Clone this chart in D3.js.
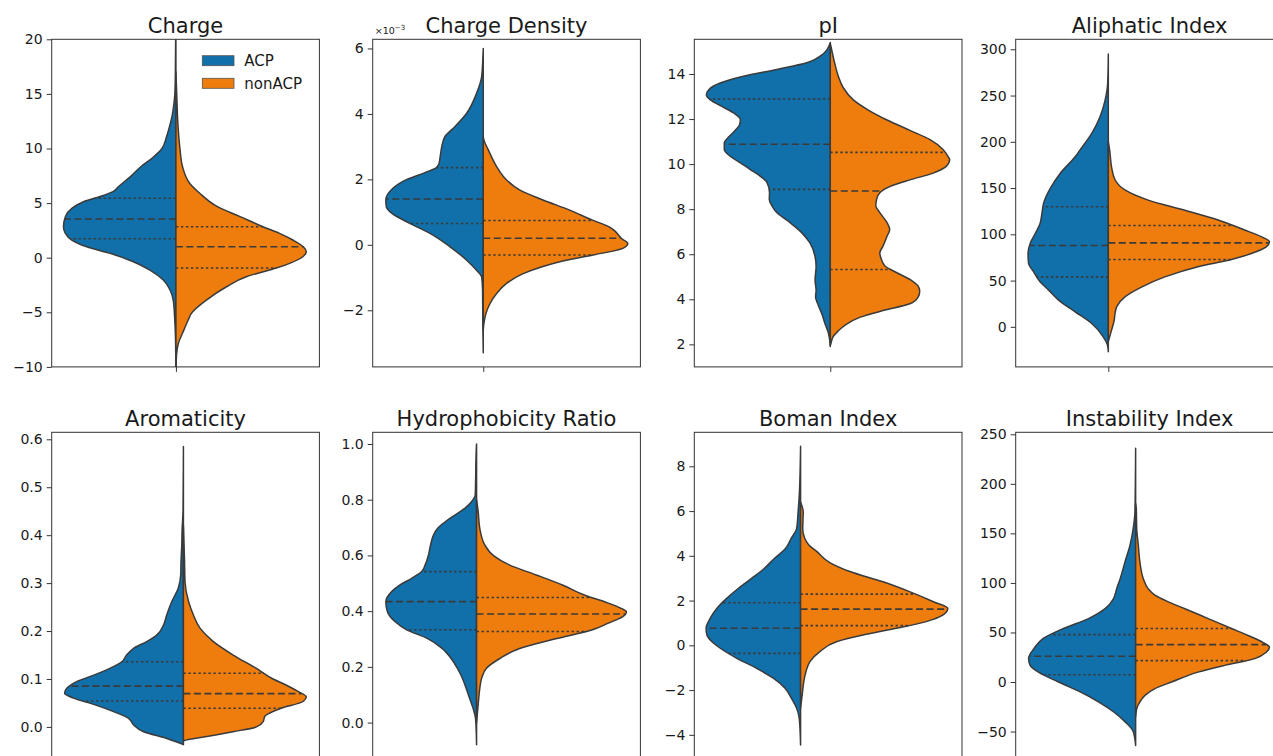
<!DOCTYPE html>
<html><head><meta charset="utf-8">
<script src="https://cdn.jsdelivr.net/npm/d3@7"></script>
<style>
body{margin:0;background:#fff}
svg{display:block}
text{font-family:"DejaVu Sans",sans-serif;fill:#1a1a1a}
</style>
</head><body>
<svg id="chart" width="1273" height="756"></svg>
<script>
// ---------------- DATA ----------------
const panelTitles = ["Charge","Charge Density","pI","Aliphatic Index","Aromaticity","Hydrophobicity Ratio","Boman Index","Instability Index"];
const groups = ["ACP","nonACP"];
// violin position on the (single, unlabeled) x category axis, domain [-0.5, 0.5]
const violinPos = [-0.036,-0.087,0.008,-0.154,-0.008,-0.112,-0.103,-0.052];
// y-axis domains (Charge Density in units of 1e-3)
const yDomains = [[-10,20],[-3.73,6.28],[1.0,15.54],[-43.3,310.8],[-0.0688,0.6146],[-0.134,1.042],[-5.12,9.52],[-78.6,252]];
const yTicks = [
  [-10,-5,0,5,10,15,20],
  [-2,0,2,4,6],
  [2,4,6,8,10,12,14],
  [0,50,100,150,200,250,300],
  [0.0,0.1,0.2,0.3,0.4,0.5,0.6],
  [0.0,0.2,0.4,0.6,0.8,1.0],
  [-4,-2,0,2,4,6,8],
  [-50,0,50,100,150,200,250]
];
const yTickFormats = ["d","d","d","d",".1f",".1f","d","d"];

// density profiles: [value, half-width in % of x-axis span]
const acpCharge = [[22,0],[20,0.1],[17,0.2],[15,0.4],[14,0.8],[13,1.4],[12,2.4],[11,3.6],[10,5.2],[9.2,8.5],[8.4,12.8],[7.4,17.1],[6.5,21.5],[6.05,23.5],[5.6,28.3],[5.13,34.5],[4.52,38.9],[3.76,41.3],[2.84,42],[2.23,41.3],[1.62,38.9],[1.0,33.3],[0.4,24.6],[-0.37,15.9],[-1.13,9.7],[-2.05,4.7],[-2.96,2.2],[-3.88,1.0],[-5.4,0.5],[-7,0.2],[-9,0.05],[-10.5,0]];
const nonCharge = [[17,0],[15,0.3],[12,0.8],[10,1.5],[8.3,2.5],[6.8,5.2],[5.9,8.9],[4.67,15.5],[3.76,24],[2.84,32.5],[2.23,38.7],[1.62,43.7],[1.0,47.6],[0.55,48.7],[0.09,47.4],[-0.52,42.5],[-0.95,37.5],[-1.13,35],[-1.74,26.3],[-2.66,18.9],[-3.88,11.4],[-5.1,5.8],[-5.7,4.6],[-6.9,2.5],[-7.85,0.9],[-9,0.2],[-11,0]];

const acpChargeDensity = [[6.0,0],[5.81,0.1],[5.14,0.6],[4.63,2.5],[4.02,6.2],[3.61,10.6],[3.31,14.3],[3.0,15.5],[2.69,16.1],[2.49,16.5],[2.36,17.5],[2.2,22],[2.0,28.5],[1.67,34.5],[1.37,36.4],[1.16,36.2],[0.96,34.1],[0.65,27.3],[0.35,19.9],[-0.06,12.4],[-0.47,6.2],[-0.78,2.5],[-0.98,0.6],[-1.4,0.25],[-2.5,0.15],[-3.3,0]];
const nonChargeDensity = [[3.3,0],[3.2,0.25],[2.9,1.9],[2.39,5],[1.98,8.7],[1.67,13.7],[1.37,22.3],[1.06,32.3],[0.755,40.8],[0.55,47],[0.45,48.8],[0.3,50.5],[0.2,51.5],[0.04,54],[-0.11,52.1],[-0.31,41],[-0.47,31],[-0.67,22],[-0.88,14.9],[-1.18,8.7],[-1.49,5],[-1.8,2.5],[-2.1,1],[-2.4,0.25],[-2.6,0]];

const acpPI = [[15.4,0],[14.9,2.6],[14.5,8.8],[14.2,20],[13.9,32.4],[13.6,41.1],[13.3,45.4],[13.07,46.3],[12.85,44.8],[12.56,40.5],[12.27,36.1],[11.97,33.6],[11.75,33.9],[11.5,35.5],[11.2,38],[10.95,39.6],[10.65,39.6],[10.35,37.4],[10.06,33.6],[9.76,29.9],[9.47,26.2],[9.2,23.7],[8.73,22.7],[8.44,22.8],[8.15,21.8],[7.85,20],[7.4,15],[6.96,10.7],[6.5,7.6],[5.9,5.7],[5.45,5.3],[4.86,5.7],[4.4,5.3],[4.1,5.5],[3.8,4.7],[3.37,3.2],[2.93,2],[2.5,0.7],[2.05,0.1],[1.9,0]];
const nonPI = [[15.35,0],[15.3,0.1],[14.6,1.4],[13.9,3],[13.4,4.8],[12.85,8.6],[12.4,14.2],[11.97,21],[11.5,29.7],[11.1,37.1],[10.65,42.1],[10.35,43.9],[10.2,44.6],[9.9,43.3],[9.6,38.4],[9.3,29.7],[9.0,22.2],[8.73,18.5],[8.44,17.3],[8.15,17],[7.85,18.5],[7.4,21.2],[7.1,22.2],[6.8,21.2],[6.36,19.7],[6.06,18.5],[5.77,19.1],[5.47,20.5],[5.2,24.5],[4.86,30],[4.57,32.9],[4.35,33.4],[4.1,32.8],[3.8,29.7],[3.5,19.7],[3.2,11],[2.9,6.1],[2.6,3],[2.35,1.1],[2.05,0.25],[1.95,0]];

const acpAliphatic = [[295,0],[263,0.25],[245,1.2],[227,3.1],[209,6.2],[191,10.6],[183.8,12.4],[165.8,18],[149.6,21.7],[133.4,24.2],[122.6,24.8],[111.8,25.5],[100.9,27.3],[90.1,29.2],[79.3,30],[68.5,29.8],[59.5,27.9],[48.7,25.5],[39.7,22.3],[28.8,18.6],[16.2,12.4],[3.6,6.2],[-10.8,1.9],[-20,0.3],[-27,0]];
const nonAliphatic = [[200,0],[191,0.5],[173,1.2],[159,2.5],[148,6.2],[137,14.9],[126,28.6],[115.5,41],[104.7,50.9],[97.5,57.1],[92,60.2],[86.5,59],[79.3,53.4],[72.8,46],[65,33.5],[54,21.1],[43,12.4],[32.4,6.2],[21.6,3.1],[14.4,2.5],[7.2,2.2],[-3.6,1.2],[-10.8,0.5],[-16,0]];

const acpAromaticity = [[0.585,0],[0.45,0.15],[0.41,0.5],[0.38,0.6],[0.345,0.9],[0.318,1.0],[0.29,1.9],[0.262,4.3],[0.234,6.2],[0.213,7.4],[0.192,9.9],[0.178,13.7],[0.164,18.6],[0.15,21.2],[0.136,23],[0.122,27.5],[0.108,33.5],[0.095,39.7],[0.081,43.5],[0.07,44.4],[0.06,41],[0.046,33],[0.032,26.1],[0.018,20.5],[0.004,18.6],[-0.01,14.9],[-0.024,6.2],[-0.034,1.2],[-0.037,0]];
const nonAromaticity = [[0.42,0],[0.35,0.4],[0.303,0.6],[0.262,1.9],[0.234,3.7],[0.206,6.2],[0.178,11.2],[0.15,18.6],[0.122,27.3],[0.1,33.5],[0.087,38.5],[0.074,42.8],[0.063,45.9],[0.053,44.7],[0.039,36.5],[0.029,32.3],[0.022,30.4],[0.011,29.8],[0.0,27.3],[-0.01,18.6],[-0.02,8.7],[-0.027,1.2],[-0.029,0]];

const acpHydro = [[1.0,0],[0.984,0.1],[0.817,0.5],[0.793,1.9],[0.77,4.3],[0.745,8.1],[0.72,11.8],[0.697,14.6],[0.673,16.1],[0.637,17.2],[0.6,18],[0.566,19.2],[0.542,20.5],[0.518,24.2],[0.494,28.6],[0.47,31.7],[0.434,33.9],[0.398,33.3],[0.362,30.4],[0.333,26.1],[0.303,18.6],[0.267,13],[0.23,9.5],[0.195,7.2],[0.159,5.3],[0.123,3.9],[0.087,2.6],[0.051,1.3],[0.016,0.4],[-0.04,0.1],[-0.08,0]];
const nonHydro = [[0.8,0],[0.757,0.6],[0.697,1.2],[0.637,3.1],[0.6,6.2],[0.565,12.4],[0.53,22.3],[0.493,32.3],[0.457,40.5],[0.433,48],[0.41,54],[0.398,56],[0.38,54.6],[0.356,49],[0.332,43],[0.302,30],[0.266,16.1],[0.23,8.7],[0.195,3.7],[0.159,1.9],[0.123,1.2],[0.075,0.7],[0.027,0.25],[0.0,0]];

const acpBoman = [[8.9,0],[6.7,0.5],[6.0,0.9],[5.2,1.5],[4.8,3.4],[4.3,5.8],[3.9,9.6],[3.4,13.9],[3.0,18.2],[2.55,23.2],[2.1,27.6],[1.65,31.3],[1.2,33.8],[0.76,35.3],[0.46,35],[0.16,33.1],[-0.13,30],[-0.58,23.8],[-1.03,16.4],[-1.47,10.2],[-1.92,5.8],[-2.37,3.4],[-2.8,1.5],[-3.26,0.5],[-4.45,0]];
const nonBoman = [[6.4,0],[6.2,0.6],[5.95,1.0],[5.6,0.9],[5.2,0.8],[4.8,1.5],[4.5,3.0],[4.2,6],[3.7,10.9],[3.3,18.4],[2.84,30.8],[2.4,40.7],[1.96,49.4],[1.65,55],[1.35,53.1],[1.06,46.9],[0.76,35.8],[0.46,23.3],[0.16,13.4],[-0.28,7.2],[-0.73,3.5],[-1.18,2],[-1.62,1.2],[-2.22,0.6],[-2.8,0]];

const acpInstability = [[236,0],[172,0.25],[155,0.9],[138,2.1],[121,4],[104,5.8],[94,7.1],[84,8.3],[74,11.4],[64,17.6],[54,27],[44,34.5],[33.7,38],[23.6,40],[16.8,39.4],[10,36.3],[0,28.8],[-10,20.7],[-20,13.9],[-30,8.3],[-40,4],[-50,0.9],[-64,0]];
const nonInstability = [[180,0],[175,0.25],[155,0.4],[138,1],[121,1.6],[104,2.9],[94,4.7],[87.6,7.2],[80.9,12.2],[74,18.4],[64,27.1],[54,35.8],[47,42],[40,47.5],[35,50],[30,48.8],[23.6,44.5],[16.8,33.3],[10,23.3],[0,13.4],[-6.7,7.2],[-13.5,3.5],[-20,1.6],[-27,0.4],[-35,0]];

// quartiles [Q1, median, Q3]
const acpQuartiles = [[1.74,3.54,5.44],[0.65,1.40,2.36],[8.88,10.88,12.89],[54,88,129.8],[0.054,0.085,0.136],[0.333,0.434,0.542],[-0.36,0.76,1.9],[7.4,26,47.8]];
const nonQuartiles = [[-0.95,1.0,2.84],[-0.31,0.20,0.745],[5.32,8.81,10.52],[72.8,90.8,109.6],[0.039,0.0695,0.112],[0.327,0.39,0.449],[0.88,1.62,2.29],[21.6,37.7,54]];

const acpProfiles = [acpCharge,acpChargeDensity,acpPI,acpAliphatic,acpAromaticity,acpHydro,acpBoman,acpInstability];
const nonProfiles = [nonCharge,nonChargeDensity,nonPI,nonAliphatic,nonAromaticity,nonHydro,nonBoman,nonInstability];

// ---------------- DRAWING ----------------
const colors = {ACP:"#1170aa", nonACP:"#ef7d0e"};
const edge = "#3a3a3a";
const svg = d3.select("#chart");
const axW = 267.7, axH = 327.6;
const colLeft = [51.7, 372.7, 694.3, 1015.7];
const rowTop = [39.3, 432.3];

function widthAt(profile, v){
  const p = profile.slice().sort((a,b)=>a[0]-b[0]);
  for(let i=0;i<p.length-1;i++){
    if(v>=p[i][0] && v<=p[i+1][0]){
      const t=(v-p[i][0])/(p[i+1][0]-p[i][0]);
      return p[i][1]+t*(p[i+1][1]-p[i][1]);
    }
  }
  return 0;
}

panelTitles.forEach((title,i)=>{
  const left = colLeft[i%4], top = rowTop[Math.floor(i/4)];
  const g = svg.append("g").attr("transform",`translate(${left},${top})`);
  const x = d3.scaleLinear().domain([-0.5,0.5]).range([0,axW]);
  const y = d3.scaleLinear().domain(yDomains[i]).range([axH,0]);
  const clipId = "clip"+i;
  g.append("clipPath").attr("id",clipId).append("rect").attr("width",axW).attr("height",axH);
  const plot = g.append("g").attr("clip-path",`url(#${clipId})`);
  const pos = violinPos[i];

  [[acpProfiles[i],-1,"ACP"],[nonProfiles[i],1,"nonACP"]].forEach(([prof,side,name])=>{
    const data = prof.slice().sort((a,b)=>a[0]-b[0]);
    const area = d3.area().curve(d3.curveMonotoneY)
      .y(d=>y(d[0])).x0(x(pos)).x1(d=>x(pos+side*d[1]/100));
    plot.append("path").datum(data).attr("d",area)
      .attr("fill",colors[name]).attr("stroke",edge).attr("stroke-width",1.5)
      .attr("stroke-linejoin","round");
  });
  [[acpProfiles[i],-1,acpQuartiles[i]],[nonProfiles[i],1,nonQuartiles[i]]].forEach(([prof,side,qs])=>{
    qs.forEach((q,k)=>{
      const w = widthAt(prof,q);
      plot.append("line")
        .attr("x1",x(pos)).attr("x2",x(pos+side*w/100))
        .attr("y1",y(q)).attr("y2",y(q))
        .attr("stroke",edge).attr("stroke-width",1.6)
        .attr("stroke-dasharray", k===1 ? "7,3.5" : "2.4,2.6");
    });
  });

  // spines
  g.append("rect").attr("width",axW).attr("height",axH)
    .attr("fill","none").attr("stroke","#333").attr("stroke-width",1);

  // y axis
  const ya = g.append("g").call(d3.axisLeft(y).tickValues(yTicks[i])
      .tickFormat(d3.format(yTickFormats[i])).tickSize(5).tickPadding(4));
  ya.select(".domain").remove();
  ya.selectAll(".tick line").attr("stroke","#333");
  ya.selectAll(".tick text").style("font-size","14px").style("font-family","DejaVu Sans, sans-serif").attr("fill","#1a1a1a");

  // x axis: single unlabeled category tick
  const xa = g.append("g").attr("transform",`translate(0,${axH})`)
    .call(d3.axisBottom(x).tickValues([pos]).tickFormat("").tickSize(5));
  xa.select(".domain").remove();
  xa.selectAll(".tick line").attr("stroke","#333");

  // title
  g.append("text").attr("x",axW/2).attr("y",-6).attr("text-anchor","middle")
    .style("font-size","21px").text(title);

  if(i===1){
    const t = g.append("text").attr("x",2).attr("y",-5.5).style("font-size","9.5px");
    t.append("tspan").text("×10");
    t.append("tspan").attr("dy",-4).style("font-size","7px").text("−3");
  }
  if(i===0){
    const lg = g.append("g").attr("transform","translate(150.6,16.4)");
    groups.forEach((name,k)=>{
      lg.append("rect").attr("x",0).attr("y",k*22.6).attr("width",31.7).attr("height",10)
        .attr("fill",colors[name]).attr("stroke","#555").attr("stroke-width",0.8);
      lg.append("text").attr("x",42).attr("y",k*22.6+10.5).style("font-size","15px").text(name);
    });
  }
});
</script>
</body></html>
